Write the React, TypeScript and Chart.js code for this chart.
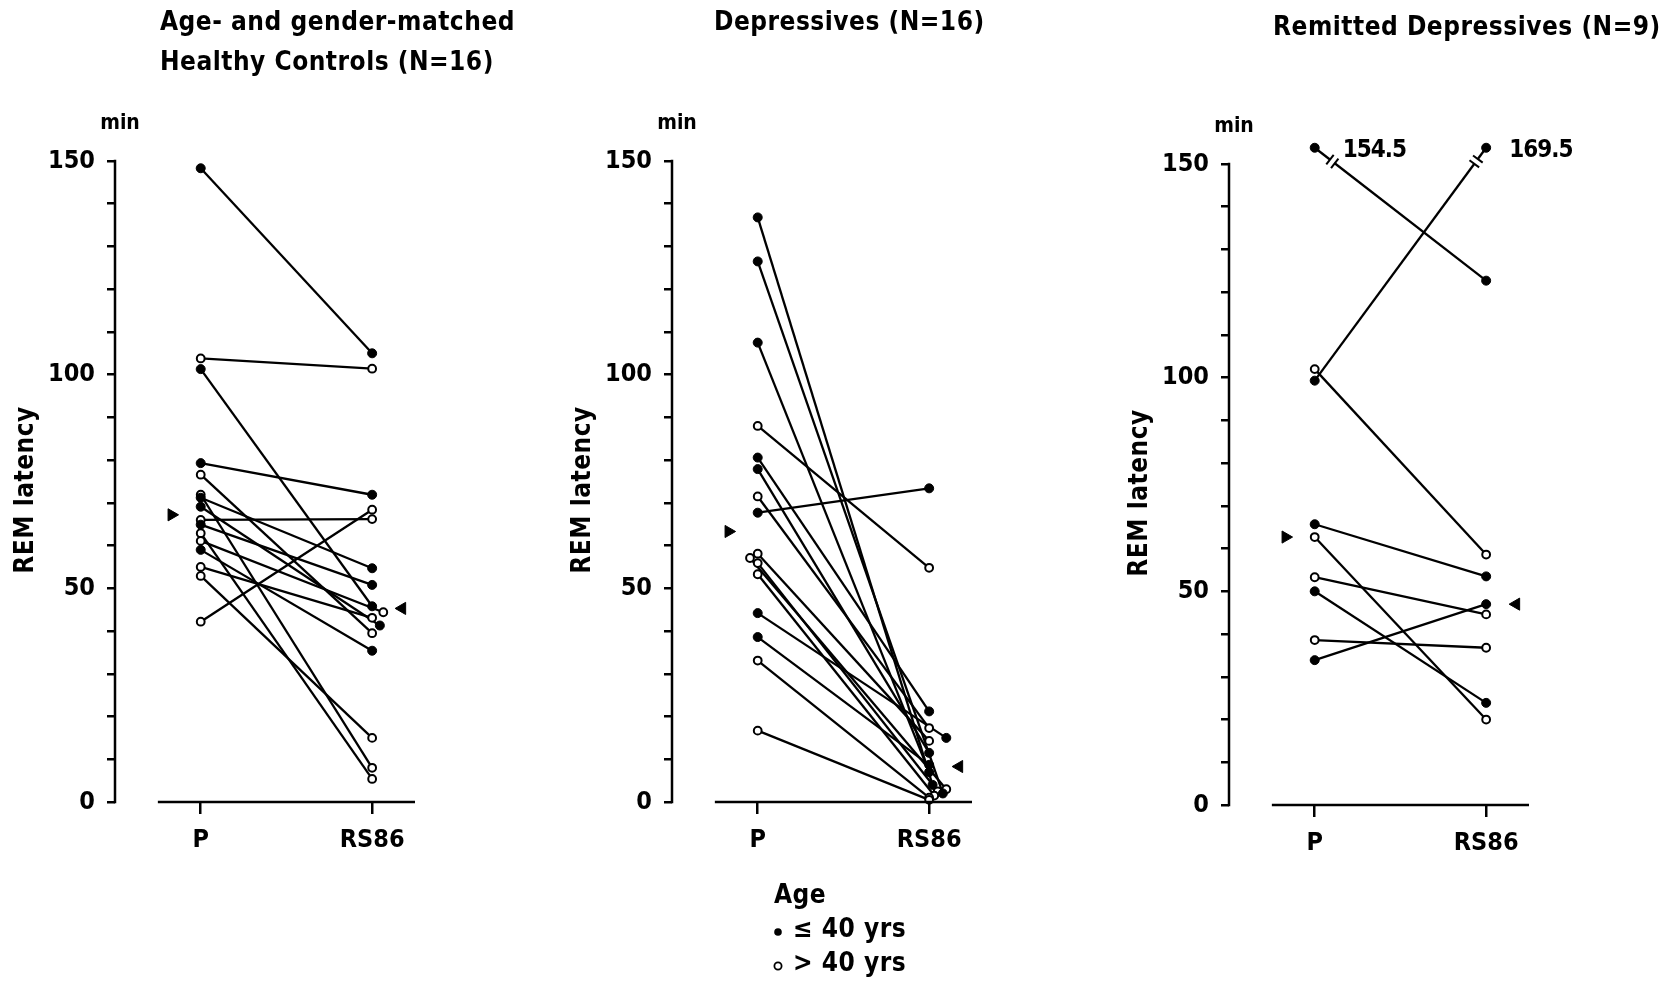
import React, { useEffect, useRef } from 'react';
import { Chart, registerables } from 'chart.js';

Chart.register(...registerables);

// ---------- data ----------
const timepoints = ['P', 'RS86'];
const yTickLabels = [0, 50, 100, 150];

// Healthy controls (N=16): REM latency (min) at placebo (P) and after RS86
const ctrlP = [148.3, 103.8, 101.3, 79.3, 76.6, 71.9, 71.2, 69.1, 66.0, 64.9, 62.9, 61.1, 59.0, 55.0, 52.9, 42.2];
const ctrlRS = [105.0, 101.4, 45.8, 71.9, 39.5, 8.0, 54.7, 41.3, 66.2, 50.8, 5.4, 44.4, 35.4, 43.1, 15.0, 68.4];
const ctrlYoung = [1, 0, 1, 1, 0, 0, 1, 1, 0, 1, 0, 0, 1, 0, 0, 0];
const ctrlMedian = [67.2, 45.3];

// Depressives (N=16)
const depP = [136.8, 126.5, 107.5, 88.0, 80.6, 77.9, 71.5, 67.7, 58.1, 57.1, 55.9, 53.3, 44.2, 38.6, 33.1, 16.7];
const depRS = [4.0, 2.0, 7.0, 54.8, 21.2, 11.5, 17.3, 73.4, 14.3, 3.0, 2.5, 1.5, 15.0, 8.7, 1.0, 0.5];
const depYoung = [1, 1, 1, 0, 1, 1, 0, 1, 0, 0, 0, 0, 1, 1, 0, 0];
const depMedian = [63.3, 8.3];

// Remitted depressives (N=9)
const remP = [154.5, 102.0, 99.3, 65.7, 62.7, 53.3, 50.0, 38.6, 33.9];
const remRS = [122.7, 58.6, 169.5, 53.5, 20.0, 44.6, 23.9, 36.8, 47.0];
const remYoung = [1, 0, 1, 1, 0, 0, 1, 0, 1];
const remMedian = [62.7, 47.0];

const ctrlTitle = ['Age- and gender-matched', 'Healthy Controls (N=16)'];
const depTitle = ['Depressives (N=16)'];
const remTitle = ['Remitted Depressives (N=9)'];
const legendTitle = 'Age';
const legendItems = ['\u2264 40 yrs', '> 40 yrs'];

// ---------- layout (not data) ----------
const W = 1669;
const H = 981;
const AXIS_MAX = 150;
const SCALE_MAX = 156;
const BREAK_PLOT = 153.8;
const AREA_TOP = 161;
const AREA_BOTTOM = 802;
const FONT = '"DejaVu Sans Condensed", "DejaVu Sans", sans-serif';
// small horizontal dodges used in the original figure to separate overlapping dots
const ctrlPDodge = new Array(16).fill(0);
const ctrlRSDodge = [0, 0, 0, 0, 0, 0, 0, 0.045, 0, 0, 0, 0.065, 0, 0, 0, 0];
const depPDodge = [0, 0, 0, 0, 0, 0, 0, 0, 0, -0.045, 0, 0, 0, 0, 0, 0];
const depRSDodge = [0.02, 0.08, 0, 0, 0, 0, 0, 0, 0, 0.1, 0.05, 0.03, 0.1, 0, 0, 0];
const remDodge = new Array(9).fill(0);

type PanelCfg = {
  p: number[];
  rs: number[];
  young: number[];
  median: number[];
  pDodge: number[];
  rsDodge: number[];
  title: string[];
  titleX: number;
  titleY: number;
  legend?: boolean;
  breaks?: boolean;
};

const plotVal = (v: number, brk?: boolean) => (brk && v > AXIS_MAX ? BREAK_PLOT : v);

function buildDatasets(c: PanelCfg) {
  const ds: any[] = [];
  c.p.forEach((v, i) => {
    ds.push({
      isPair: true,
      data: [
        { x: 1 + c.pDodge[i], y: plotVal(v, c.breaks) },
        { x: 2 + c.rsDodge[i], y: plotVal(c.rs[i], c.breaks) },
      ],
      showLine: true,
      borderColor: '#000',
      borderWidth: 2.3,
      pointRadius: 0,
      order: 3,
      clip: false,
    });
  });
  [1, 0].forEach((flag) => {
    const pts: any[] = [];
    c.p.forEach((v, i) => {
      if (c.young[i] === flag) {
        pts.push({ x: 1 + c.pDodge[i], y: plotVal(v, c.breaks) });
        pts.push({ x: 2 + c.rsDodge[i], y: plotVal(c.rs[i], c.breaks) });
      }
    });
    ds.push({
      data: pts,
      pointRadius: flag ? 4.5 : 3.9,
      pointBackgroundColor: flag ? '#000' : '#fff',
      pointBorderColor: '#000',
      pointBorderWidth: flag ? 1 : 2,
      order: 1,
      clip: false,
    });
  });
  ds.push({
    data: [{ x: 1 - 0.17, y: c.median[0] }],
    pointStyle: 'triangle',
    pointRotation: 90,
    pointRadius: 7,
    pointBackgroundColor: '#000',
    pointBorderColor: '#000',
    order: 1,
    clip: false,
  });
  ds.push({
    data: [{ x: 2 + 0.175, y: c.median[1] }],
    pointStyle: 'triangle',
    pointRotation: -90,
    pointRadius: 7,
    pointBackgroundColor: '#000',
    pointBorderColor: '#000',
    order: 1,
    clip: false,
  });
  return ds;
}

const decor = {
  id: 'decor',
  afterDraw(chart: any, _args: any, opts: any) {
    const { ctx } = chart;
    const xs = chart.scales.x;
    const ys = chart.scales.y;
    const cfg: PanelCfg = opts.cfg;
    ctx.save();
    ctx.strokeStyle = '#000';
    ctx.lineWidth = 2.5;
    // y axis line, 0 .. 150
    const ax = chart.chartArea.left;
    ctx.beginPath();
    ctx.moveTo(ax, ys.getPixelForValue(0) + 1.2);
    ctx.lineTo(ax, ys.getPixelForValue(AXIS_MAX) - 1.2);
    ctx.stroke();
    // baseline
    ctx.beginPath();
    ctx.moveTo(xs.getPixelForValue(0.75), ys.getPixelForValue(0));
    ctx.lineTo(xs.getPixelForValue(2.25), ys.getPixelForValue(0));
    ctx.stroke();

    ctx.fillStyle = '#000';
    ctx.textBaseline = 'middle';
    ctx.font = `bold 26px ${FONT}`;
    (ctx as any).letterSpacing = '0.5px';
    ctx.textAlign = 'left';
    cfg.title.forEach((t, i) => ctx.fillText(t, cfg.titleX, cfg.titleY + i * 40));

    ctx.font = `bold 21px ${FONT}`;
    (ctx as any).letterSpacing = '0px';
    ctx.textAlign = 'center';
    ctx.fillText('min', ax + 5, 124);

    // y axis title
    ctx.font = `bold 26px ${FONT}`;
    ctx.save();
    ctx.translate(26, 490);
    ctx.rotate(-Math.PI / 2);
    (ctx as any).letterSpacing = '0.5px';
    ctx.fillText('REM latency', 0, 0);
    ctx.restore();

    if (cfg.legend) {
      (ctx as any).letterSpacing = '0.5px';
      ctx.textAlign = 'left';
      ctx.fillText(legendTitle, 217, 896);
      ctx.fillText(legendItems[0], 236, 930);
      ctx.fillText(legendItems[1], 236, 964);
      ctx.beginPath();
      ctx.arc(221, 932, 3.8, 0, Math.PI * 2);
      ctx.fill();
      ctx.beginPath();
      ctx.lineWidth = 1.8;
      ctx.arc(221, 966, 3.6, 0, Math.PI * 2);
      ctx.stroke();
    }

    if (cfg.breaks) {
      chart.data.datasets.forEach((d: any) => {
        if (!d.isPair) return;
        const a = d.data[0];
        const b = d.data[1];
        if (a.y <= AXIS_MAX && b.y <= AXIS_MAX) return;
        const axp = xs.getPixelForValue(a.x), ayp = ys.getPixelForValue(a.y);
        const bxp = xs.getPixelForValue(b.x), byp = ys.getPixelForValue(b.y);
        const cy = ys.getPixelForValue(150.6);
        const t = (cy - ayp) / (byp - ayp);
        const cx = axp + (bxp - axp) * t;
        const len = Math.hypot(bxp - axp, byp - ayp);
        const ux = (bxp - axp) / len, uy = (byp - ayp) / len;
        const nx = -uy, ny = ux;
        ctx.strokeStyle = '#fff';
        ctx.lineWidth = 4;
        ctx.beginPath();
        ctx.moveTo(cx - 2.5 * ux, cy - 2.5 * uy);
        ctx.lineTo(cx + 2.5 * ux, cy + 2.5 * uy);
        ctx.stroke();
        ctx.strokeStyle = '#000';
        ctx.lineWidth = 2;
        [-3, 3].forEach((s) => {
          const px = cx + s * ux, py = cy + s * uy;
          ctx.beginPath();
          ctx.moveTo(px - 6 * nx, py - 6 * ny);
          ctx.lineTo(px + 6 * nx, py + 6 * ny);
          ctx.stroke();
        });
      });
      ctx.font = `bold 24px ${FONT}`;
      (ctx as any).letterSpacing = '-1px';
      ctx.textAlign = 'left';
      ctx.fillStyle = '#000';
      cfg.p.forEach((v, i) => {
        if (v > AXIS_MAX) ctx.fillText(v.toFixed(1), xs.getPixelForValue(1) + 28, ys.getPixelForValue(BREAK_PLOT) + 3);
        if (cfg.rs[i] > AXIS_MAX)
          ctx.fillText(cfg.rs[i].toFixed(1), xs.getPixelForValue(2) + 23, ys.getPixelForValue(BREAK_PLOT) + 3);
      });
    }
    ctx.restore();
  },
};

function makeConfig(c: PanelCfg, width: number): any {
  const unit = (AREA_BOTTOM - AREA_TOP) / AXIS_MAX;
  const topPad = AREA_TOP - (SCALE_MAX - AXIS_MAX) * unit;
  return {
    type: 'scatter',
    data: { datasets: buildDatasets(c) },
    plugins: [decor],
    options: {
      animation: false,
      responsive: false,
      devicePixelRatio: 1,
      layout: { padding: { top: topPad, left: 0, bottom: 0, right: width - 115 - 300 } },
      plugins: {
        legend: { display: false },
        tooltip: { enabled: false },
        decor: { cfg: c },
      },
      scales: {
        x: {
          type: 'linear',
          min: 0.5,
          max: 2.25,
          afterBuildTicks: (s: any) => {
            s.ticks = timepoints.map((_, i) => ({ value: i + 1 }));
          },
          afterFit: (s: any) => {
            s.height = H - AREA_BOTTOM;
          },
          ticks: {
            autoSkip: false,
            maxRotation: 0,
            padding: 11,
            color: '#000',
            font: { family: FONT, size: 25, weight: 'bold' },
            callback: (v: number) => timepoints[Math.round(v) - 1] ?? '',
          },
          grid: { drawOnChartArea: false, tickLength: 12, lineWidth: 2.5, color: '#000' },
          border: { display: false },
        },
        y: {
          min: 0,
          max: SCALE_MAX,
          afterFit: (s: any) => {
            s.width = 115;
          },
          ticks: {
            stepSize: 10,
            includeBounds: false,
            padding: 12,
            color: '#000',
            font: { family: FONT, size: 25, weight: 'bold' },
            callback: (v: number) => (yTickLabels.includes(v) ? String(v) : ''),
          },
          grid: { drawOnChartArea: false, tickLength: 8, lineWidth: 2.5, color: '#000' },
          border: { display: false },
        },
      },
    },
  };
}

function Panel({ cfg, left, top, width }: { cfg: PanelCfg; left: number; top: number; width: number }) {
  const ref = useRef<HTMLCanvasElement>(null);
  useEffect(() => {
    const chart = new Chart(ref.current as HTMLCanvasElement, makeConfig(cfg, width));
    return () => chart.destroy();
  }, []);
  return (
    <canvas
      ref={ref}
      width={width}
      height={H}
      style={{ position: 'absolute', left, top, width, height: H }}
    />
  );
}

const panels: { cfg: PanelCfg; left: number; top: number; width: number }[] = [
  {
    cfg: { p: ctrlP, rs: ctrlRS, young: ctrlYoung, median: ctrlMedian, pDodge: ctrlPDodge, rsDodge: ctrlRSDodge, title: ctrlTitle, titleX: 160, titleY: 23 },
    left: 0,
    top: 0,
    width: 557,
  },
  {
    cfg: { p: depP, rs: depRS, young: depYoung, median: depMedian, pDodge: depPDodge, rsDodge: depRSDodge, title: depTitle, titleX: 157, titleY: 23, legend: true },
    left: 557,
    top: 0,
    width: 557,
  },
  {
    cfg: { p: remP, rs: remRS, young: remYoung, median: remMedian, pDodge: remDodge, rsDodge: remDodge, title: remTitle, titleX: 159, titleY: 25, breaks: true },
    left: 1114,
    top: 3,
    width: 555,
  },
];

export default function App() {
  useEffect(() => {
    document.body.style.margin = '0';
  }, []);
  return (
    <div style={{ position: 'relative', width: W, height: H, overflow: 'hidden', background: '#fff' }}>
      {panels.map((p, i) => (
        <Panel key={i} {...p} />
      ))}
    </div>
  );
}
